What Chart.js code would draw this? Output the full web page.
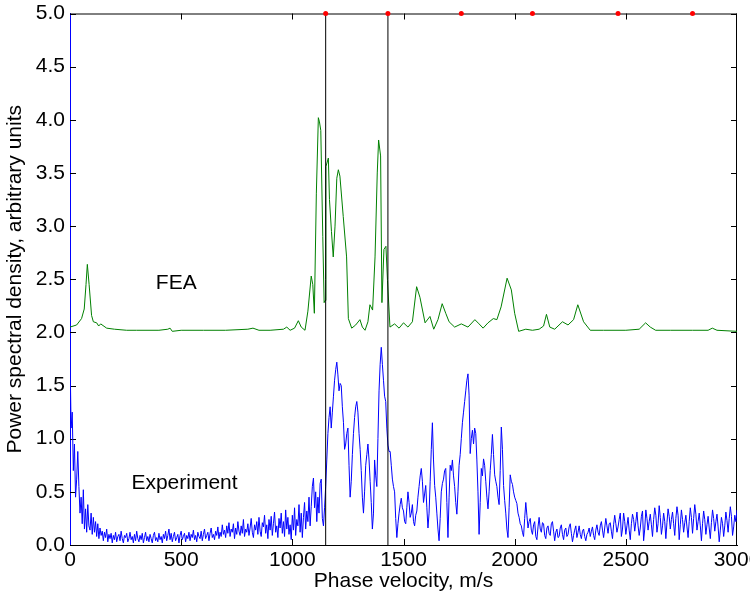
<!DOCTYPE html>
<html><head><meta charset="utf-8">
<script src="https://cdn.jsdelivr.net/npm/chart.js@4"></script>
<style>html,body{margin:0;padding:0;background:#fff}canvas{display:block}</style>
</head><body>
<canvas id="c" width="750" height="598"></canvas>
<script>
// ---- data ----
const xTickValues = [0, 500, 1000, 1500, 2000, 2500, 3000];
const yTickValues = [0, 0.5, 1, 1.5, 2, 2.5, 3, 3.5, 4, 4.5, 5];

const feaX = [0, 30, 52, 64, 72, 78, 86, 97, 105, 120, 129, 138, 165, 200, 255, 300, 400, 440, 450, 460, 500, 600, 700, 800, 823, 850, 900, 960, 975, 990, 1010, 1027, 1040, 1057, 1070, 1085, 1092, 1099, 1108, 1117, 1122, 1128, 1137, 1143, 1147, 1151, 1162, 1167, 1176, 1184, 1192, 1200, 1207, 1214, 1229, 1244, 1252, 1267, 1285, 1304, 1315, 1327, 1340, 1349, 1361, 1372, 1382, 1388, 1397, 1403, 1412, 1421, 1428, 1439, 1460, 1480, 1500, 1520, 1540, 1559, 1574, 1597, 1619, 1636, 1655, 1674, 1690, 1705, 1730, 1760, 1790, 1821, 1840, 1858, 1880, 1904, 1920, 1939, 1966, 1985, 2000, 2018, 2050, 2080, 2110, 2130, 2143, 2158, 2180, 2215, 2240, 2265, 2284, 2310, 2340, 2400, 2500, 2560, 2589, 2610, 2634, 2700, 2800, 2870, 2889, 2910, 3000];
const feaY = [2.05, 2.07, 2.13, 2.22, 2.45, 2.64, 2.45, 2.16, 2.10, 2.09, 2.06, 2.08, 2.04, 2.03, 2.02, 2.02, 2.02, 2.03, 2.04, 2.01, 2.02, 2.02, 2.02, 2.03, 2.04, 2.02, 2.02, 2.03, 2.05, 2.02, 2.04, 2.11, 2.05, 2.02, 2.20, 2.53, 2.45, 2.18, 3.31, 4.02, 3.98, 3.90, 2.90, 2.28, 2.30, 3.56, 3.64, 3.25, 2.95, 2.71, 3.00, 3.45, 3.53, 3.47, 3.09, 2.71, 2.13, 2.04, 2.07, 2.12, 2.05, 2.02, 2.10, 2.26, 2.21, 2.71, 3.50, 3.81, 3.66, 2.28, 2.78, 2.81, 2.49, 2.05, 2.08, 2.04, 2.09, 2.05, 2.10, 2.43, 2.33, 2.09, 2.15, 2.03, 2.12, 2.27, 2.18, 2.10, 2.05, 2.08, 2.05, 2.12, 2.08, 2.04, 2.09, 2.13, 2.12, 2.24, 2.51, 2.40, 2.18, 2.01, 2.03, 2.02, 2.03, 2.06, 2.17, 2.05, 2.03, 2.10, 2.07, 2.12, 2.26, 2.10, 2.02, 2.02, 2.02, 2.03, 2.09, 2.05, 2.02, 2.02, 2.02, 2.02, 2.04, 2.02, 2.01];

const expStep = 5; // m/s between experiment samples, starting at 0
const expY = [
 1.80, 1.10, 1.25, 0.70, 0.95, 0.45, 0.62, 0.88, 0.55, 0.30,
 0.45, 0.20, 0.52, 0.15, 0.34, 0.12, 0.38, 0.18, 0.14, 0.30,
 0.10, 0.26, 0.12, 0.22, 0.08, 0.20, 0.06, 0.16, 0.09, 0.13,
 0.04, 0.12, 0.07, 0.15, 0.03, 0.10, 0.06, 0.11, 0.02, 0.09,
 0.05, 0.12, 0.03, 0.08, 0.10, 0.04, 0.13, 0.06, 0.02, 0.09,
 0.07, 0.11, 0.03, 0.06, 0.12, 0.05, 0.08, 0.02, 0.10, 0.04,
 0.13, 0.06, 0.03, 0.09, 0.05, 0.11, 0.02, 0.07, 0.12, 0.04,
 0.08, 0.03, 0.10, 0.06, 0.02, 0.09, 0.12, 0.04, 0.07, 0.03,
 0.11, 0.05, 0.08, 0.02, 0.10, 0.06, 0.13, 0.04, 0.09, 0.15,
 0.05, 0.11, 0.03, 0.08, 0.12, 0.04, 0.07, 0.10, 0.02, 0.09,
 0.13, 0.05, 0.08, 0.11, 0.03, 0.09, 0.06, 0.12, 0.04, 0.10,
 0.07, 0.14, 0.05, 0.09, 0.03, 0.12, 0.08, 0.06, 0.13, 0.04,
 0.10, 0.15, 0.06, 0.09, 0.12, 0.04, 0.11, 0.16, 0.07, 0.10,
 0.05, 0.13, 0.09, 0.17, 0.06, 0.12, 0.08, 0.19, 0.10, 0.14,
 0.07, 0.18, 0.11, 0.21, 0.08, 0.15, 0.12, 0.20, 0.06, 0.16,
 0.10, 0.22, 0.13, 0.09, 0.18, 0.11, 0.24, 0.08, 0.15, 0.12,
 0.20, 0.09, 0.16, 0.25, 0.12, 0.07, 0.19, 0.14, 0.22, 0.10,
 0.26, 0.13, 0.08, 0.21, 0.17, 0.28, 0.11, 0.19, 0.06, 0.24,
 0.14, 0.27, 0.09, 0.20, 0.31, 0.12, 0.18, 0.07, 0.25, 0.16,
 0.30, 0.11, 0.22, 0.08, 0.33, 0.15, 0.26, 0.10, 0.19, 0.05,
 0.28, 0.14, 0.35, 0.09, 0.24, 0.18, 0.38, 0.12, 0.30, 0.07,
 0.26, 0.40, 0.15, 0.32, 0.22, 0.45, 0.18, 0.36, 0.55, 0.63,
 0.35, 0.50, 0.22, 0.45, 0.30, 0.58, 0.62, 0.25, 0.18, 0.35,
 0.55, 0.80, 1.05, 1.20, 1.30, 1.10, 1.25, 1.40, 1.55, 1.65,
 1.72, 1.60, 1.45, 1.52, 1.50, 1.30, 1.15, 0.90, 0.95, 1.05,
 1.10, 0.75, 0.45, 0.60, 0.85, 1.05, 1.20, 1.30, 1.35, 1.25,
 1.05, 0.90, 0.70, 0.45, 0.30, 0.50, 0.75, 0.85, 0.95, 0.80,
 0.60, 0.40, 0.15, 0.30, 0.80, 0.65, 0.55, 1.00, 1.45, 1.70,
 1.86, 1.70, 1.55, 1.40, 1.35, 1.10, 0.94, 0.88, 0.88, 0.75,
 0.62, 0.55, 0.50, 0.25, 0.07, 0.20, 0.30, 0.38, 0.44, 0.35,
 0.32, 0.22, 0.20, 0.35, 0.50, 0.40, 0.26, 0.30, 0.38, 0.22,
 0.18, 0.28, 0.32, 0.45, 0.55, 0.65, 0.72, 0.60, 0.40, 0.48,
 0.56, 0.35, 0.16, 0.30, 0.60, 0.90, 1.15, 0.80, 0.56, 0.45,
 0.30, 0.15, 0.04, 0.25, 0.50, 0.58, 0.62, 0.70, 0.72, 0.40,
 0.07, 0.45, 0.75, 0.70, 0.80, 0.65, 0.55, 0.40, 0.29, 0.50,
 0.75, 0.85, 1.00, 1.15, 1.25, 1.35, 1.45, 1.55, 1.61, 1.41,
 0.86, 1.00, 1.08, 0.95, 1.10, 1.05, 0.80, 0.50, 0.10, 0.40,
 0.72, 0.65, 0.81, 0.75, 0.60, 0.45, 0.34, 0.50, 0.70, 0.85,
 1.04, 0.85, 0.66, 0.60, 0.55, 0.45, 0.38, 0.70, 1.11, 0.90,
 0.56, 0.42, 0.30, 0.15, 0.07, 0.35, 0.66, 0.60, 0.57, 0.50,
 0.45, 0.42, 0.39, 0.30, 0.26, 0.20, 0.18, 0.12, 0.08, 0.25,
 0.40, 0.28, 0.16, 0.22, 0.25, 0.14, 0.10, 0.19, 0.22, 0.08,
 0.05, 0.17, 0.26, 0.15, 0.12, 0.21, 0.20, 0.09, 0.06, 0.16,
 0.18, 0.11, 0.09, 0.20, 0.22, 0.13, 0.04, 0.12, 0.15, 0.07,
 0.08, 0.16, 0.19, 0.10, 0.05, 0.14, 0.16, 0.08, 0.10, 0.17,
 0.20, 0.11, 0.03, 0.09, 0.14, 0.18, 0.07, 0.12, 0.18, 0.10,
 0.06, 0.13, 0.15, 0.08, 0.04, 0.10, 0.12, 0.16, 0.08, 0.13,
 0.17, 0.09, 0.05, 0.14, 0.19, 0.12, 0.09, 0.18, 0.22, 0.14,
 0.07, 0.16, 0.25, 0.18, 0.11, 0.20, 0.21, 0.13, 0.06, 0.19,
 0.28, 0.20, 0.12, 0.17, 0.24, 0.30, 0.08, 0.15, 0.30, 0.22,
 0.10, 0.18, 0.26, 0.14, 0.05, 0.20, 0.29, 0.24, 0.13, 0.22,
 0.31, 0.18, 0.09, 0.16, 0.27, 0.32, 0.04, 0.15, 0.33, 0.25,
 0.14, 0.22, 0.29, 0.19, 0.08, 0.24, 0.35, 0.28, 0.12, 0.20,
 0.37, 0.26, 0.10, 0.18, 0.30, 0.22, 0.06, 0.21, 0.34, 0.27,
 0.15, 0.24, 0.31, 0.20, 0.09, 0.25, 0.36, 0.28, 0.05, 0.19,
 0.33, 0.24, 0.12, 0.21, 0.28, 0.17, 0.07, 0.22, 0.35, 0.26,
 0.11, 0.25, 0.38, 0.29, 0.14, 0.22, 0.30, 0.18, 0.04, 0.20,
 0.32, 0.24, 0.10, 0.19, 0.27, 0.16, 0.06, 0.21, 0.33, 0.25,
 0.13, 0.22, 0.29, 0.17, 0.03, 0.14, 0.26, 0.20, 0.08, 0.18,
 0.31, 0.23, 0.12, 0.25, 0.36, 0.27, 0.09, 0.17, 0.28, 0.22,
 0.33
];

const markerLineX = [1150, 1430];
const redDotX = [1150, 1430, 1760, 2080, 2465, 2800];
const annotations = [
  { text: 'FEA', x: 478, y: 2.46 },
  { text: 'Experiment', x: 515, y: 0.58 }
];

// ---- build datasets ----
const FONT = "'Liberation Sans', Arial, Helvetica, sans-serif";
const FSIZE = 21;
const feaData = feaX.map((x, i) => ({ x, y: feaY[i] }));
const expData = expY.map((y, i) => ({ x: i * expStep, y }));
const datasets = [];
datasets.push({
  data: redDotX.map(x => ({ x, y: 5 })), showLine: false, pointRadius: 2.5, pointHoverRadius: 0,
  pointBackgroundColor: '#ff0000', pointBorderColor: '#ff0000', pointBorderWidth: 0, clip: false, order: 0
});
markerLineX.forEach(x => datasets.push({
  data: [{ x, y: 0 }, { x, y: 5 }], borderColor: '#000000', borderWidth: 1, pointRadius: 0, showLine: true, order: 1
}));
datasets.push({ data: feaData, borderColor: 'rgb(0,128,0)', borderWidth: 1, pointRadius: 0, showLine: true, tension: 0, order: 2 });
datasets.push({ data: expData, borderColor: 'rgb(0,0,255)', borderWidth: 1, pointRadius: 0, showLine: true, tension: 0, order: 3 });

const framePlugin = {
  id: 'frame',
  beforeDatasetsDraw(chart) {
    const { ctx, chartArea: a, scales: { x, y } } = chart;
    ctx.save();
    ctx.strokeStyle = '#000';
    ctx.lineWidth = 1;
    ctx.beginPath();
    ctx.moveTo(a.left, a.top + 0.5); ctx.lineTo(a.right, a.top + 0.5);
    ctx.moveTo(a.right - 0.5, a.top); ctx.lineTo(a.right - 0.5, a.bottom);
    const L = 6;
    xTickValues.forEach(v => {
      const px = Math.round(x.getPixelForValue(v)) + 0.5;
      if (v === xTickValues[0] || v === xTickValues[xTickValues.length - 1]) return;
      ctx.moveTo(px, a.bottom); ctx.lineTo(px, a.bottom - L);
      ctx.moveTo(px, a.top); ctx.lineTo(px, a.top + L);
    });
    yTickValues.forEach(v => {
      const py = Math.round(y.getPixelForValue(v)) + 0.5;
      ctx.moveTo(a.left, py); ctx.lineTo(a.left + L, py);
      ctx.moveTo(a.right, py); ctx.lineTo(a.right - L, py);
    });
    ctx.stroke();
    ctx.restore();
  },
  afterDatasetsDraw(chart) {
    const { ctx, scales: { x, y } } = chart;
    ctx.save();
    ctx.fillStyle = '#000';
    ctx.font = FSIZE + 'px ' + FONT;
    ctx.textAlign = 'center';
    ctx.textBaseline = 'middle';
    annotations.forEach(t => ctx.fillText(t.text, x.getPixelForValue(t.x), y.getPixelForValue(t.y)));
    ctx.restore();
  }
};

new Chart(document.getElementById('c'), {
  type: 'scatter',
  data: { datasets },
  plugins: [framePlugin],
  options: {
    responsive: false, animation: false, devicePixelRatio: 1,
    layout: { padding: { top: 13.5, right: 13, left: 0, bottom: 0 } },
    plugins: { legend: { display: false }, tooltip: { enabled: false } },
    scales: {
      x: {
        type: 'linear', min: 0, max: 3000,
        afterBuildTicks: s => { s.ticks = xTickValues.map(v => ({ value: v })); },
        afterFit: s => { s.height = 53; s.paddingLeft = 0; s.paddingRight = 0; },
        grid: { display: false, drawTicks: false },
        border: { display: true, color: '#000', width: 1 },
        ticks: { padding: 3, color: '#000', font: { size: FSIZE, family: FONT }, maxRotation: 0, autoSkip: false,
                 callback: v => String(v) },
        title: { display: true, text: 'Phase velocity, m/s', color: '#000', font: { size: FSIZE, family: FONT }, padding: { top: 0, bottom: 4 } }
      },
      y: {
        type: 'linear', min: 0, max: 5,
        afterBuildTicks: s => { s.ticks = yTickValues.map(v => ({ value: v })); },
        afterFit: s => { s.width = 70; s.paddingTop = 0; s.paddingBottom = 0; },
        grid: { display: false, drawTicks: false },
        border: { display: true, color: 'rgb(0,0,255)', width: 1 },
        ticks: { padding: 5, color: '#000', font: { size: FSIZE, family: FONT }, autoSkip: false,
                 callback: v => Number(v).toFixed(1) },
        title: { display: true, text: 'Power spectral density, arbitrary units', color: '#000', font: { size: FSIZE, family: FONT }, padding: { top: 3, bottom: 0 } }
      }
    }
  }
});
</script>
</body></html>
